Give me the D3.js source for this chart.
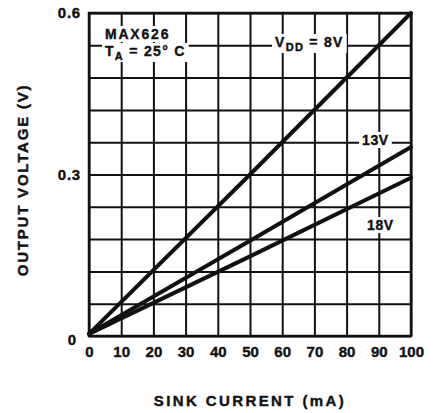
<!DOCTYPE html>
<html>
<head>
<meta charset="utf-8">
<script src="https://cdn.jsdelivr.net/npm/d3@7"></script>
<style>
  body { margin: 0; background: #fff; }
  svg text { font-family: "Liberation Sans", Arial, sans-serif; font-weight: bold; fill: #111; stroke: #111; stroke-width: 0.4px; }
</style>
</head>
<body>
<svg id="chart"></svg>
<script>
// sink current (mA) and output voltage (V) for each supply voltage
const current = [0, 50, 100];
const vdd8 = [0.004, 0.300, 0.600];
const vdd13 = [0.004, 0.177, 0.351];
const vdd18 = [0.004, 0.148, 0.294];

const xTicks = [0, 10, 20, 30, 40, 50, 60, 70, 80, 90, 100];
const yGrid = [0, 0.06, 0.12, 0.18, 0.24, 0.3, 0.36, 0.42, 0.48, 0.54, 0.6];
const yLabels = [0, 0.3, 0.6];

function drawChart() {
    const svg = d3.select("#chart"),
        margin = { top: 13, right: 27, bottom: 77, left: 89 },
        width = 438 - margin.left - margin.right,
        height = 413 - margin.top - margin.bottom;

    svg.attr("width", width + margin.left + margin.right)
       .attr("height", height + margin.top + margin.bottom);

    const g = svg.append("g")
        .attr("transform", `translate(${margin.left},${margin.top})`);

    const x = d3.scaleLinear().domain([0, 100]).range([0, width]);
    const y = d3.scaleLinear().domain([0, 0.6]).range([height, 0]);

    // grid (vertical lines + x tick labels)
    const xAxis = g.append("g")
        .attr("transform", `translate(0,${height})`)
        .call(d3.axisBottom(x).tickValues(xTicks).tickSize(-height).tickSizeOuter(0).tickPadding(10));
    xAxis.select(".domain").remove();
    xAxis.selectAll("line").attr("stroke", "#111").attr("stroke-width", 2);
    xAxis.selectAll("text")
        .style("font-size", "15px")
        .attr("fill", "#111");

    // horizontal grid lines
    const yAxis = g.append("g")
        .call(d3.axisLeft(y).tickValues(yGrid).tickSize(-width).tickFormat(""));
    yAxis.select(".domain").remove();
    yAxis.selectAll("line").attr("stroke", "#111").attr("stroke-width", 2);

    // y tick labels
    const yLab = g.append("g")
        .call(d3.axisLeft(y).tickValues(yLabels).tickSize(0).tickPadding(8)
            .tickFormat(d => d === 0 ? "0" : d3.format(".1f")(d)));
    yLab.select(".domain").remove();
    yLab.selectAll("text")
        .style("font-size", "15px")
        .style("letter-spacing", "0.8px")
        .attr("fill", "#111");
    yLab.selectAll(".tick").filter(d => d === 0).select("text").attr("dy", "0.55em").attr("x", -12);

    // frame
    g.append("rect")
        .attr("width", width)
        .attr("height", height)
        .attr("fill", "none")
        .attr("stroke", "#111")
        .attr("stroke-width", 2.5);

    // labels inside plot, with white backing
    function label(px, py, parts, spacing) {
        const t = g.append("text")
            .attr("x", px)
            .attr("y", py)
            .style("font-size", "14px")
            .style("letter-spacing", spacing + "px");
        parts.forEach(p => {
            const s = t.append("tspan").text(p.text);
            if (p.sub) s.attr("dy", 4).style("font-size", "11px");
            if (p.back) s.attr("dy", -4);
        });
        const b = t.node().getBBox();
        g.insert("rect", () => t.node())
            .attr("x", b.x - 3)
            .attr("y", b.y)
            .attr("width", b.width + 6)
            .attr("height", b.height)
            .attr("fill", "#fff");
        return t;
    }

    label(16, 26, [{ text: "MAX626" }], 1.8);
    label(16, 43, [{ text: "T" }, { text: "A", sub: true }, { text: " = 25° C", back: true }], 1.3);
    label(186, 34, [{ text: "V" }, { text: "DD", sub: true }, { text: " = 8V", back: true }], 1.3);
    label(273, 132, [{ text: "13V" }], 0.6);
    label(278, 217, [{ text: "18V" }], 0.6);

    // data lines
    const series = [vdd8, vdd13, vdd18];
    const line = d3.line()
        .x((d, i) => x(current[i]))
        .y(d => y(d));

    g.append("g")
        .selectAll("path")
        .data(series)
        .enter().append("path")
        .attr("d", line)
        .attr("fill", "none")
        .attr("stroke", "#111")
        .attr("stroke-width", 4)
        .attr("stroke-linecap", "round");

    // axis titles
    svg.append("text")
        .attr("x", 250)
        .attr("y", 406)
        .attr("text-anchor", "middle")
        .style("font-size", "15px")
        .style("letter-spacing", "2.4px")
        .text("SINK CURRENT (mA)");

    svg.append("text")
        .attr("transform", `translate(28,180) rotate(-90)`)
        .attr("text-anchor", "middle")
        .style("font-size", "15px")
        .style("letter-spacing", "1.8px")
        .text("OUTPUT VOLTAGE (V)");
}

drawChart();
</script>
</body>
</html>
